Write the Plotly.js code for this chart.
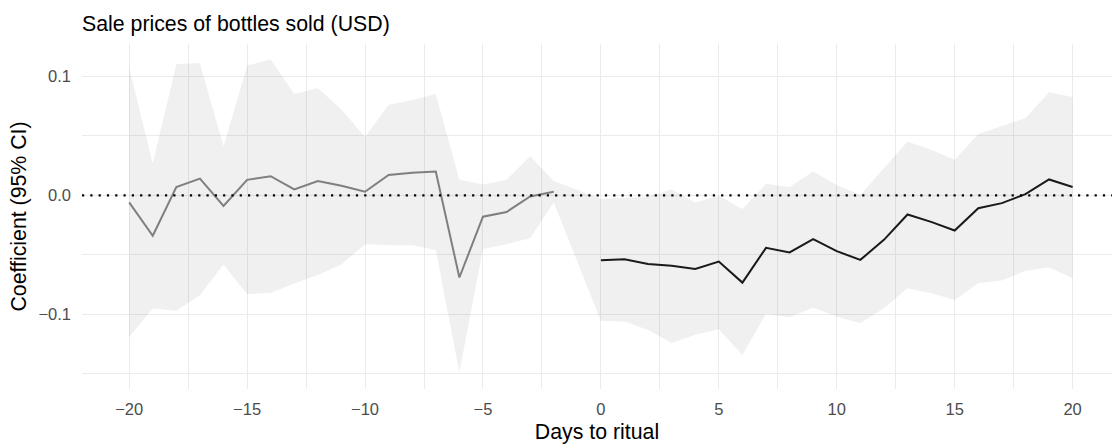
<!DOCTYPE html>
<html>
<head>
<meta charset="utf-8">
<script src="https://cdn.plot.ly/plotly-3.0.1.min.js"></script>
<style>html,body{margin:0;padding:0;background:#fff;}#chart{width:1112px;height:444px;}</style>
</head>
<body>
<div id="chart"></div>
<script>
// Days before the ritual (day -1 is the reference)
const daysPre = [-20,-19,-18,-17,-16,-15,-14,-13,-12,-11,-10,-9,-8,-7,-6,-5,-4,-3,-2];
const coefPre = [-0.006,-0.034,0.007,0.014,-0.009,0.013,0.016,0.005,0.012,0.008,0.003,0.017,0.019,0.020,-0.069,-0.018,-0.014,-0.001,0.003];
const hiPre   = [0.107,0.027,0.110,0.111,0.041,0.109,0.114,0.085,0.090,0.072,0.049,0.076,0.080,0.085,0.013,0.009,0.013,0.033,0.012];
const loPre   = [-0.119,-0.095,-0.097,-0.084,-0.058,-0.083,-0.082,-0.074,-0.067,-0.058,-0.041,-0.042,-0.042,-0.046,-0.149,-0.045,-0.041,-0.036,-0.006];

// Days from the ritual onward
const daysPost = [0,1,2,3,4,5,6,7,8,9,10,11,12,13,14,15,16,17,18,19,20];
const coefPost = [-0.0545,-0.0536,-0.0576,-0.0592,-0.0618,-0.0556,-0.0733,-0.0441,-0.048,-0.0368,-0.0469,-0.0542,-0.0374,-0.0161,-0.0223,-0.0296,-0.0108,-0.0066,0.001,0.0133,0.0069];
const hiPost   = [-0.003,-0.002,-0.001,0.005,-0.006,-0.0004,-0.0116,0.0097,0.0069,0.020,0.0086,0.0004,0.0228,0.0452,0.0382,0.0298,0.0514,0.0584,0.0649,0.0864,0.0825];
const loPost   = [-0.1055,-0.106,-0.113,-0.124,-0.117,-0.1125,-0.134,-0.0996,-0.1024,-0.0943,-0.1018,-0.1074,-0.0948,-0.078,-0.0822,-0.0878,-0.0738,-0.0716,-0.0634,-0.0607,-0.0696];

// Grid positions (major + minor) and their labels
const xTicks = [-20,-17.5,-15,-12.5,-10,-7.5,-5,-2.5,0,2.5,5,7.5,10,12.5,15,17.5,20];
const xTickText = ['\u221220','','\u221215','','\u221210','','\u22125','','0','','5','','10','','15','','20'];
const yTicks = [-0.15,-0.1,-0.05,0,0.05,0.1];
const yTickText = ['','\u22120.1','','0.0','','0.1'];

const chartTitle = 'Sale prices of bottles sold (USD)';
const xTitle = 'Days to ritual';
const yTitle = 'Coefficient (95% CI)';

// ribbon polygon across all days (excluding reference day)
const allDays = daysPre.concat(daysPost);
const allHi = hiPre.concat(hiPost);
const allLo = loPre.concat(loPost);
const ribbonX = allDays.concat(allDays.slice().reverse());
const ribbonY = allHi.concat(allLo.slice().reverse());

const traces = [
  {x: ribbonX, y: ribbonY, type: 'scatter', mode: 'lines', fill: 'toself',
   fillcolor: 'rgba(0,0,0,0.06)', line: {width: 0, color: 'rgba(0,0,0,0)'}, hoverinfo: 'skip', showlegend: false},
  {x: daysPre, y: coefPre, type: 'scatter', mode: 'lines',
   line: {color: '#7f7f7f', width: 2}, showlegend: false},
  {x: daysPost, y: coefPost, type: 'scatter', mode: 'lines',
   line: {color: '#1a1a1a', width: 2}, showlegend: false}
];

const fontFam = 'Liberation Sans, Arial, sans-serif';
const layout = {
  width: 1112, height: 444,
  margin: {l: 82, r: 0, t: 44, b: 55, pad: 0},
  paper_bgcolor: '#fff', plot_bgcolor: '#fff',
  font: {family: fontFam, color: '#000'},
  title: {text: chartTitle, x: 0, xref: 'paper', xanchor: 'left', y: 1 - 23.5/444, yref: 'container', yanchor: 'middle',
          font: {family: fontFam, size: 21.3, color: '#000'}},
  xaxis: {
    range: [-22, 21.67], tickmode: 'array', tickvals: xTicks, ticktext: xTickText,
    showgrid: true, gridcolor: '#ebebeb', gridwidth: 1, zeroline: false, showline: false, ticks: '',
    tickfont: {size: 16.5, color: '#4d4d4d', family: fontFam}, ticklabelstandoff: 8,
    title: {text: xTitle, font: {size: 21.3, color: '#000', family: fontFam}, standoff: 12},
    automargin: false
  },
  yaxis: {
    range: [-0.1626, 0.127], tickmode: 'array', tickvals: yTicks, ticktext: yTickText,
    showgrid: true, gridcolor: '#ebebeb', gridwidth: 1, zeroline: false, showline: false, ticks: '',
    tickfont: {size: 16.5, color: '#4d4d4d', family: fontFam}, ticklabelstandoff: 10,
    title: {text: yTitle, font: {size: 21.3, color: '#000', family: fontFam}, standoff: 5},
    automargin: false
  },
  shapes: [{type: 'line', xref: 'paper', x0: 0, x1: 1, yref: 'y', y0: 0, y1: 0,
            line: {color: '#000', width: 2.2, dash: '2.2px,6.1px'}, layer: 'above'}],
  showlegend: false
};

Plotly.newPlot('chart', traces, layout, {displayModeBar: false, staticPlot: true});
</script>
</body>
</html>
